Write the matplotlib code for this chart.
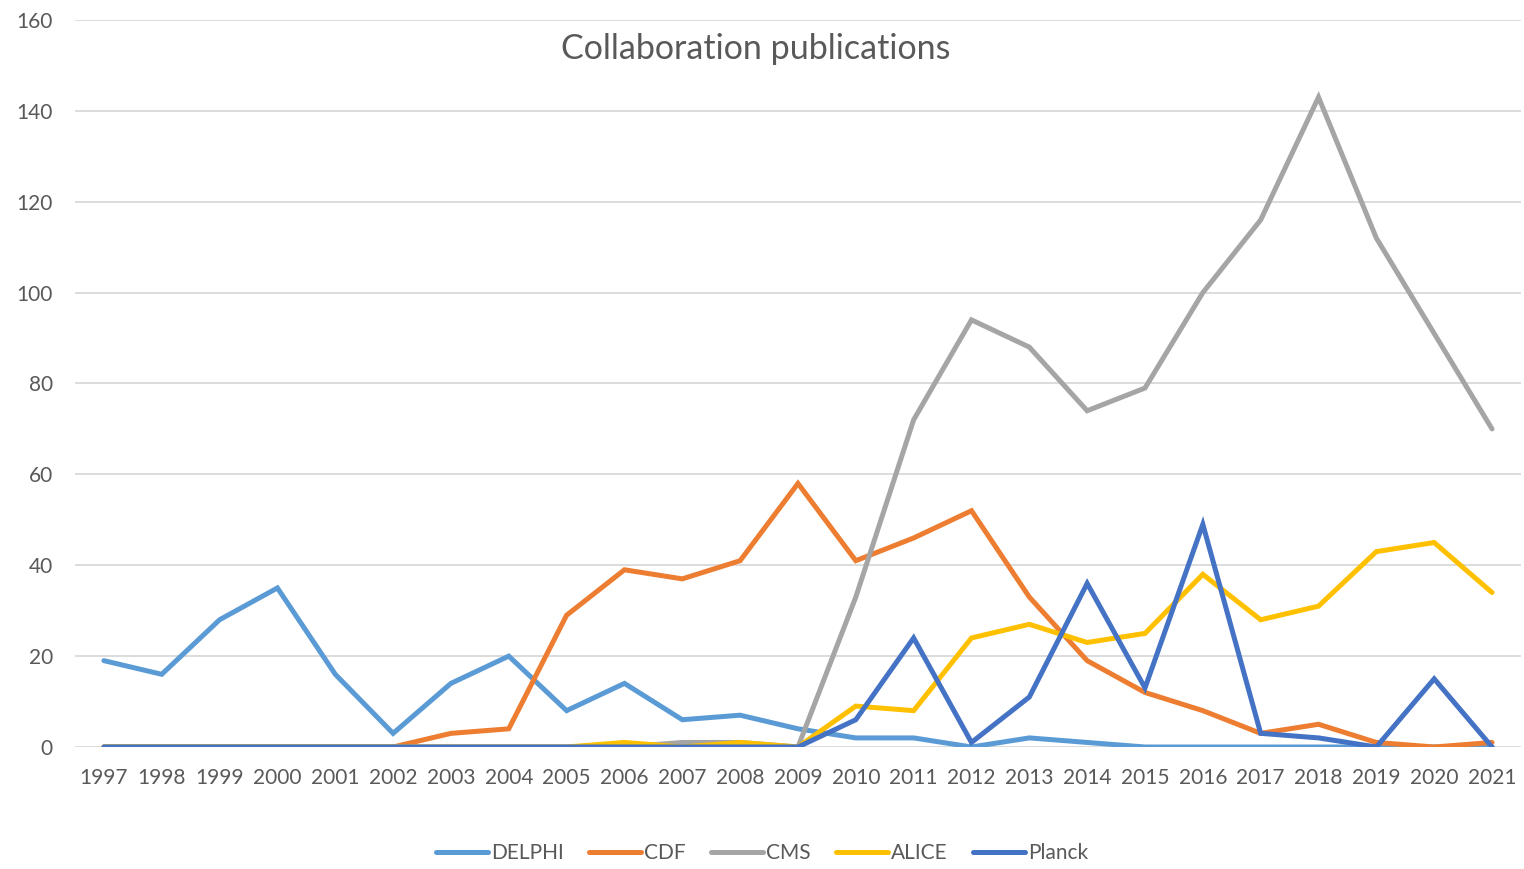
import numpy as np
import matplotlib.pyplot as plt

years = [str(y) for y in range(1997, 2022)]
delphi = [19, 16, 28, 35, 16, 3, 14, 20, 8, 14, 6, 7, 4, 2, 2, 0, 2, 1, 0, 0, 0, 0, 0, 0, 0]
cdf = [0, 0, 0, 0, 0, 0, 3, 4, 29, 39, 37, 41, 58, 41, 46, 52, 33, 19, 12, 8, 3, 5, 1, 0, 1]
cms = [0, 0, 0, 0, 0, 0, 0, 0, 0, 0, 1, 1, 0, 33, 72, 94, 88, 74, 79, 100, 116, 143, 112, 91, 70]
alice = [0, 0, 0, 0, 0, 0, 0, 0, 0, 1, 0, 1, 0, 9, 8, 24, 27, 23, 25, 38, 28, 31, 43, 45, 34]
planck = [0, 0, 0, 0, 0, 0, 0, 0, 0, 0, 0, 0, 0, 6, 24, 1, 11, 36, 13, 49, 3, 2, 0, 15, 0]

series = [('DELPHI', delphi, '#5B9BD5'), ('CDF', cdf, '#ED7D31'), ('CMS', cms, '#A5A5A5'),
          ('ALICE', alice, '#FFC000'), ('Planck', planck, '#4472C4')]

plt.rcParams['font.family'] = ['Lato', 'DejaVu Sans']
txt = '#595959'

fig = plt.figure(figsize=(15.24, 8.69), dpi=100)
ax = fig.add_axes([0.0492, 0.1404, 0.9488, 0.8366])

x = np.arange(len(years))
for name, vals, col in series:
    ax.plot(x, vals, color=col, lw=3.6, label=name, solid_capstyle='round', solid_joinstyle='miter')

ax.set_xlim(-0.5, len(years) - 0.5)
ax.set_ylim(0, 160)
ax.set_yticks(range(0, 161, 20))
ax.set_xticks(x)
ax.set_xticklabels(years)
ax.grid(axis='y', color='#d9d9d9', lw=1.3)
ax.set_axisbelow(True)
for s in ax.spines.values():
    s.set_visible(False)
ax.tick_params(length=0, labelsize=15, labelcolor=txt)
ax.tick_params(axis='y', pad=16)
ax.tick_params(axis='x', pad=15)

fig.text(0.496, 0.944, 'Collaboration publications', ha='center', va='center',
         fontsize=24.5, color=txt)

fig.legend(loc='center', bbox_to_anchor=(0.5, 0.018), ncol=5, frameon=False, fontsize=15,
           labelcolor=txt, handlelength=2.5, handletextpad=0.15, columnspacing=1.2)

fig.savefig('out.png', dpi=100)
